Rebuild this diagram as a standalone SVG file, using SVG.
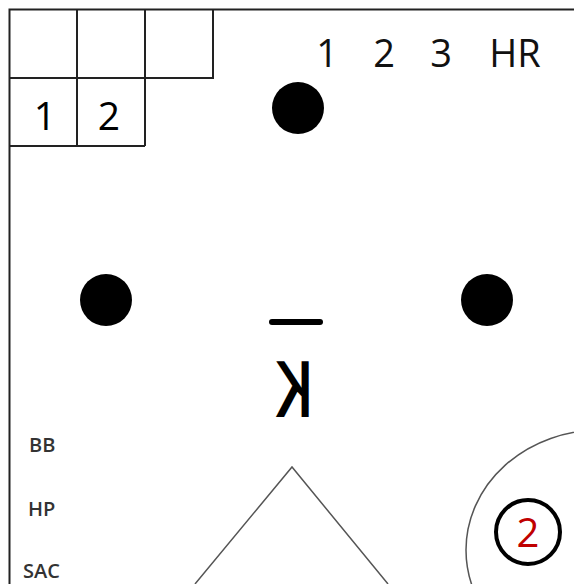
<svg xmlns="http://www.w3.org/2000/svg" width="574" height="584" viewBox="0 0 574 584">
<style>
.frame{fill:none;stroke:#222;stroke-width:2}
.big{font-family:"Open Sans","Liberation Sans",sans-serif;font-size:39px;fill:#000;text-anchor:middle}
.top{font-size:38px;fill:#111}
.lbl{font-family:"Open Sans","Liberation Sans",sans-serif;font-size:20px;font-weight:600;fill:#333}
.dot{fill:#000}
.thin{fill:none;stroke:#555;stroke-width:1.5}
</style>
<rect width="574" height="584" fill="#fff"/>
<g id="frame">
<path class="frame" d="M574 9.5H9.5V584"/>
<path class="frame" d="M9.5 78H213V9.5M77 9.5V146M145 9.5V146M9.5 146H145"/>
</g>
<g id="cells">
<text class="big" x="45" y="130">1</text>
<text class="big" x="109" y="130">2</text>
</g>
<g id="bases-label">
<text class="big top" x="327" y="67">1</text>
<text class="big top" x="384" y="67">2</text>
<text class="big top" x="441" y="67">3</text>
<text class="big top" x="515" y="67">HR</text>
</g>
<g id="dots">
<circle class="dot" cx="298" cy="108" r="26"/>
<circle class="dot" cx="106" cy="300" r="26"/>
<circle class="dot" cx="487" cy="300" r="26"/>
</g>
<g id="strikeout">
<line x1="272" y1="322" x2="320" y2="322" stroke="#000" stroke-width="6" stroke-linecap="round"/>
<text class="big" style="font-size:77px;font-weight:600;fill:#000" transform="translate(295 417) scale(-0.78 1)">K</text>
</g>
<g id="labels">
<text class="lbl" x="29" y="452">BB</text>
<text class="lbl" x="28" y="516">HP</text>
<text class="lbl" x="23" y="578">SAC</text>
</g>
<g id="diamond">
<path class="thin" d="M195 584L292 467L388 584"/>
</g>
<g id="outs">
<ellipse class="thin" cx="600" cy="550" rx="134" ry="120"/>
<circle cx="528" cy="532" r="32" fill="none" stroke="#000" stroke-width="4"/>
<text class="big" x="528" y="547" style="font-size:40px;fill:#c00000">2</text>
</g>
</svg>
